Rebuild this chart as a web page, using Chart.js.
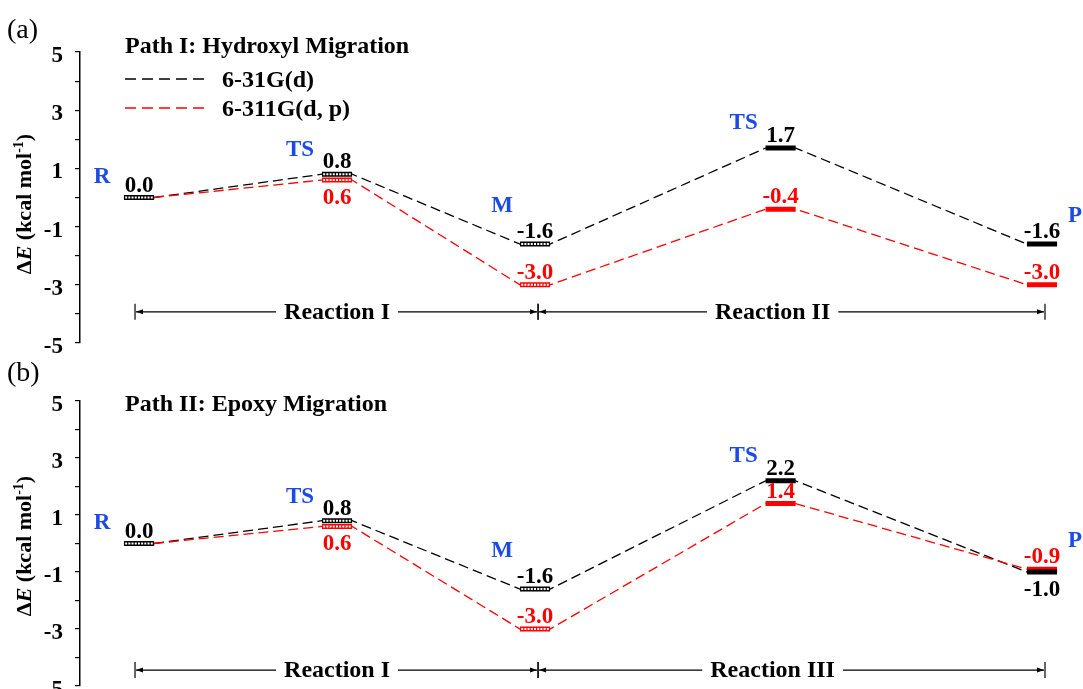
<!DOCTYPE html>
<html>
<head>
<meta charset="utf-8">
<script src="https://cdn.jsdelivr.net/npm/chart.js@4.4.1/dist/chart.umd.min.js"></script>
<style>
    html, body { margin: 0; padding: 0; background: #fff; overflow: hidden; }
    #wrap { position: relative; width: 1083px; height: 689px; overflow: hidden; background: #fff; }
    .panel { position: absolute; left: 0; width: 1083px; height: 360px; }
</style>
</head>
<body>
<div id="wrap">
    <div class="panel" style="top:0"><canvas id="pathI" width="1083" height="360"></canvas></div>
    <div class="panel" style="top:349px"><canvas id="pathII" width="1083" height="360"></canvas></div>
</div>
<script>
// --- data ---
const stateNames = ['R', 'TS', 'M', 'TS', 'P'];
const reactionCoord = [0, 1, 2, 3.24, 4.56];
const methods = ['6-31G(d)', '6-311G(d, p)'];

const pathI_631Gd = [0.0, 0.8, -1.6, 1.7, -1.6];
const pathI_6311Gdp = [0.0, 0.6, -3.0, -0.4, -3.0];
const pathII_631Gd = [0.0, 0.8, -1.6, 2.2, -1.0];
const pathII_6311Gdp = [0.0, 0.6, -3.0, 1.4, -0.9];

const pathI_reactions = ['Reaction I', 'Reaction II'];
const pathII_reactions = ['Reaction I', 'Reaction III'];
const yTickLabels = [5, 3, 1, -1, -3, -5];

// --- style ---
const SERIF = '"Liberation Serif", "Times New Roman", serif';
const BLUE = '#1c4ae8';
const COLORS = ['#000000', '#ff0000'];
const LEVEL_HALF = 0.076;           // half width of an energy level, in reaction coordinate
const HATCHED = [true, true, true, false, false];
// where the value label sits for each series / state
const pathI_labelSide = [['above', 'above', 'above', 'above', 'above'], [null, 'below', 'above', 'above', 'above']];
const pathII_labelSide = [['above', 'above', 'above', 'above', 'below'], [null, 'below', 'above', 'above', 'above']];
// state label offset [dx, dy] in px from the highest level of that state
const stateLabelOffset = [[-37, -15], [-37, -18], [-33, -32], [-37, -19], [33, -22]];

function buildDatasets(series) {
    const sets = [];
    series.forEach((values, s) => {
        const color = COLORS[s];
        const ends = [], levels = [], hatch = [];
        values.forEach((v, i) => {
            const c = reactionCoord[i];
            ends.push({ x: c - LEVEL_HALF, y: v }, { x: c + LEVEL_HALF, y: v });
            levels.push({ x: c - LEVEL_HALF, y: v }, { x: c + LEVEL_HALF, y: v }, { x: c + LEVEL_HALF, y: null });
            if (HATCHED[i]) {
                hatch.push({ x: c - LEVEL_HALF + 0.006, y: v }, { x: c + LEVEL_HALF - 0.006, y: v }, { x: c + LEVEL_HALF, y: null });
            }
        });
        // black on top for the levels, red on top for the connectors
        const base = s === 0 ? 0 : 2;
        sets.push({
            data: hatch, borderColor: '#ffffff', borderWidth: 2, borderDash: [2, 1.2],
            pointRadius: 0, spanGaps: false, order: base
        });
        sets.push({
            data: levels, borderColor: color, borderWidth: 5, borderCapStyle: 'butt',
            pointRadius: 0, spanGaps: false, order: base + 1
        });
        sets.push({
            data: ends, borderColor: color, borderWidth: 1.3, borderDash: [10, 5],
            pointRadius: 0, order: s === 0 ? 5 : 4
        });
    });
    return sets;
}

function drawAxisTitle(ctx, cx, cy) {
    const parts = [
        ['\u0394', 'bold 22px', 0],
        ['E', 'italic bold 22px', 0],
        [' (kcal mol', 'bold 22px', 0],
        ['-1', 'bold 14px', -8],
        [')', 'bold 22px', 0]
    ];
    let total = 0;
    parts.forEach(p => { ctx.font = `${p[1]} ${SERIF}`; p.push(ctx.measureText(p[0]).width); total += p[3]; });
    ctx.save();
    ctx.translate(cx, cy);
    ctx.rotate(-Math.PI / 2);
    ctx.textAlign = 'left';
    ctx.textBaseline = 'alphabetic';
    ctx.fillStyle = '#000';
    let px = -total / 2;
    parts.forEach(p => {
        ctx.font = `${p[1]} ${SERIF}`;
        ctx.fillText(p[0], px, 7 + p[2]);
        px += p[3];
    });
    ctx.restore();
}

function drawBracket(ctx, x0, x1, yy, label, labelX) {
    ctx.strokeStyle = '#000';
    ctx.fillStyle = '#000';
    ctx.lineWidth = 1.2;
    [x0, x1].forEach(xx => {
        ctx.beginPath(); ctx.moveTo(xx, yy - 8); ctx.lineTo(xx, yy + 8); ctx.stroke();
    });
    ctx.font = `bold 24px ${SERIF}`;
    const w = ctx.measureText(label).width;
    const g0 = labelX - w / 2 - 8, g1 = labelX + w / 2 + 8;
    ctx.beginPath();
    ctx.moveTo(x0 + 1, yy); ctx.lineTo(g0, yy);
    ctx.moveTo(g1, yy); ctx.lineTo(x1 - 1, yy);
    ctx.stroke();
    // arrow heads pointing to the end ticks
    [[x0 + 1, 1], [x1 - 1, -1]].forEach(([tip, dir]) => {
        ctx.beginPath();
        ctx.moveTo(tip, yy);
        ctx.lineTo(tip + dir * 7, yy - 2.5);
        ctx.lineTo(tip + dir * 7, yy + 2.5);
        ctx.closePath();
        ctx.fill();
    });
    ctx.textAlign = 'center';
    ctx.textBaseline = 'middle';
    ctx.fillText(label, labelX, yy + 1);
}

const energyAnnot = {
    id: 'energyAnnot',
    afterDatasetsDraw(chart, args, opts) {
        const { ctx, scales: { x, y } } = chart;
        ctx.save();

        // panel tag
        ctx.fillStyle = '#000';
        ctx.textAlign = 'left';
        ctx.textBaseline = 'alphabetic';
        ctx.font = `28px ${SERIF}`;
        ctx.fillText(opts.tag, 7, opts.tagY);

        drawAxisTitle(ctx, 24, opts.axisTitleY);

        // title + legend
        ctx.font = `bold 24px ${SERIF}`;
        ctx.fillText(opts.title, 125, opts.titleY);
        if (opts.showLegend) {
            methods.forEach((m, i) => {
                const ly = opts.titleY + 34 + i * 29;
                ctx.strokeStyle = COLORS[i];
                ctx.lineWidth = 1.3;
                ctx.setLineDash([11, 6]);
                ctx.beginPath(); ctx.moveTo(125, ly - 8); ctx.lineTo(204, ly - 8); ctx.stroke();
                ctx.setLineDash([]);
                ctx.fillStyle = '#000';
                ctx.font = `bold 24px ${SERIF}`;
                ctx.fillText(m, 222, ly);
            });
        }

        // value labels
        ctx.textAlign = 'center';
        ctx.font = `bold 23px ${SERIF}`;
        opts.series.forEach((vals, s) => {
            vals.forEach((v, i) => {
                const side = opts.labelSide[s][i];
                if (!side) return;
                const px = x.getPixelForValue(reactionCoord[i]);
                const py = y.getPixelForValue(v);
                ctx.fillStyle = COLORS[s];
                ctx.fillText(v.toFixed(1), px, side === 'above' ? py - 6 : py + 24);
            });
        });

        // state labels
        ctx.fillStyle = BLUE;
        ctx.font = `bold 23px ${SERIF}`;
        stateNames.forEach((n, i) => {
            const top = Math.max(...opts.series.map(vals => vals[i]));
            const px = x.getPixelForValue(reactionCoord[i]) + stateLabelOffset[i][0];
            const py = y.getPixelForValue(top) + stateLabelOffset[i][1];
            ctx.fillText(n, px, py);
        });

        // reaction brackets: R -> M (under TS1), M -> P (under TS2)
        const by = y.getPixelForValue(opts.bracketY);
        drawBracket(ctx, x.getPixelForValue(reactionCoord[0]) - 4, x.getPixelForValue(reactionCoord[2]) + 3,
            by, opts.reactions[0], x.getPixelForValue(reactionCoord[1]));
        drawBracket(ctx, x.getPixelForValue(reactionCoord[2]) + 3, x.getPixelForValue(reactionCoord[4]) + 3,
            by, opts.reactions[1], x.getPixelForValue(reactionCoord[3]) - 8);

        ctx.restore();
    }
};

function makePanel(canvasId, series, panelOpts, padBottom) {
    return new Chart(document.getElementById(canvasId), {
        type: 'line',
        data: { datasets: buildDatasets(series) },
        options: {
            responsive: false,
            animation: false,
            devicePixelRatio: 1,
            layout: { padding: { top: 52, bottom: padBottom, left: 0, right: 0 } },
            elements: { line: { tension: 0 } },
            plugins: {
                legend: { display: false },
                tooltip: { enabled: false },
                energyAnnot: Object.assign({ series: series }, panelOpts)
            },
            scales: {
                x: { type: 'linear', min: -0.298, max: 4.767, display: false },
                y: {
                    type: 'linear',
                    min: -5,
                    max: 5,
                    afterFit: (scale) => {
                        scale.width = 80;
                        scale.paddingTop = 0;
                        scale.paddingBottom = 0;
                    },
                    ticks: {
                        stepSize: 1,
                        autoSkip: false,
                        padding: 12,
                        labelOffset: 4,
                        color: '#000',
                        font: { family: SERIF, size: 23, weight: 'bold' },
                        callback: (v) => yTickLabels.includes(v) ? String(v) : ''
                    },
                    grid: { drawOnChartArea: false, tickLength: 5, color: '#000', lineWidth: 1.2 },
                    border: { color: '#000', width: 1.5 }
                }
            }
        },
        plugins: [energyAnnot]
    });
}

makePanel('pathI', [pathI_631Gd, pathI_6311Gdp], {
    tag: '(a)', tagY: 38, axisTitleY: 204, title: 'Path I: Hydroxyl Migration', titleY: 53,
    showLegend: true, labelSide: pathI_labelSide, reactions: pathI_reactions, bracketY: -3.93
}, 17);

makePanel('pathII', [pathII_631Gd, pathII_6311Gdp], {
    tag: '(b)', tagY: 32, axisTitleY: 197, title: 'Path II: Epoxy Migration', titleY: 62,
    showLegend: false, labelSide: pathII_labelSide, reactions: pathII_reactions, bracketY: -4.44
}, 23);
</script>
</body>
</html>
